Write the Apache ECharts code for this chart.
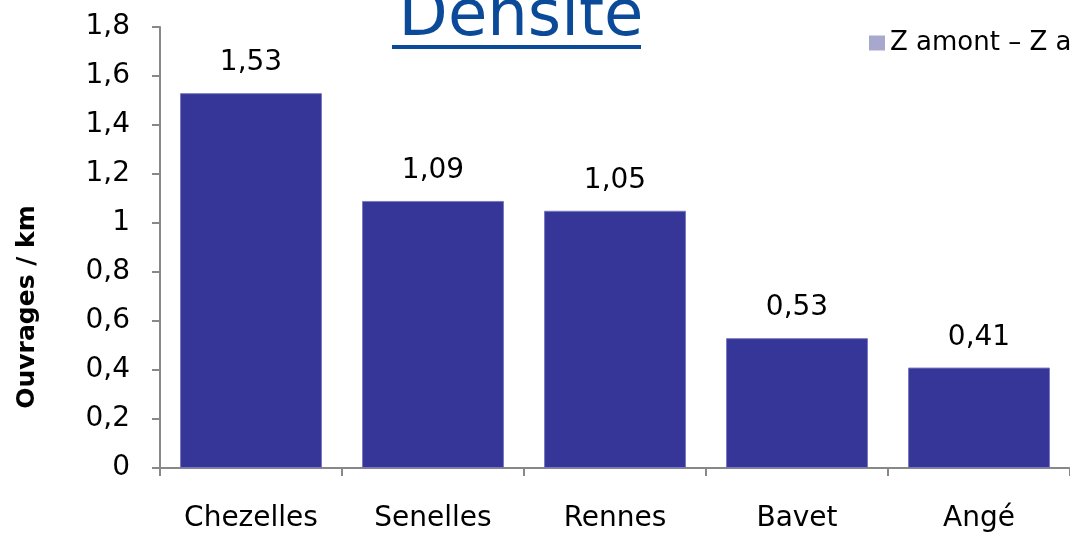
<!DOCTYPE html>
<html>
<head>
<meta charset="utf-8">
<script src="https://cdn.jsdelivr.net/npm/echarts@6/dist/echarts.min.js"></script>
<style>
html,body{margin:0;padding:0;background:#fff;}
#chart{width:1070px;height:533px;}
</style>
</head>
<body>
<div id="chart"></div>
<script>
var categories = ['Chezelles', 'Senelles', 'Rennes', 'Bavet', 'Angé'];
var densite = [1.53, 1.09, 1.05, 0.53, 0.41];
var seriesName = 'Z amont – Z aval';
var titleText = 'Densité';
var yAxisName = 'Ouvrages / km';

var FONT = 'DejaVu Sans';
function fr(v){ return String(v).replace('.', ','); }

var chart = echarts.init(document.getElementById('chart'));
chart.setOption({
  animation: false,
  backgroundColor: '#ffffff',
  grid: { left: 160, right: -3, top: 27, bottom: 64, containLabel: false },
  title: {
    text: titleText,
    left: 516, textAlign: 'center',
    top: -19,
    textStyle: { fontFamily: FONT, fontSize: 64, fontWeight: 'normal', color: '#0A4A98' }
  },
  legend: {
    left: 864, top: 25,
    icon: 'rect', itemWidth: 16, itemHeight: 15, itemGap: 4,
    textStyle: { fontFamily: FONT, fontSize: 26, color: '#000' },
    data: [{ name: seriesName, itemStyle: { color: '#A8A8CE', borderWidth: 0 } }]
  },
  graphic: [
    { type: 'rect', shape: { x: 392, y: 45, width: 249, height: 4 }, style: { fill: '#0A4A98' } },
    { type: 'text', x: 27, y: 307, rotation: Math.PI / 2,
      style: { text: yAxisName, font: 'bold 25px "' + FONT + '"', fill: '#000', textAlign: 'center', textVerticalAlign: 'middle' } }
  ],
  xAxis: {
    type: 'category',
    data: categories,
    axisLine: { lineStyle: { color: '#888', width: 2 } },
    axisTick: { show: true, length: 8, lineStyle: { color: '#888', width: 2 } },
    axisLabel: { fontFamily: FONT, fontSize: 28, color: '#000', margin: 37 }
  },
  yAxis: {
    type: 'value',
    min: 0, max: 1.8, interval: 0.2,
    axisLine: { show: true, lineStyle: { color: '#888', width: 2 } },
    axisTick: { show: true, length: 8, lineStyle: { color: '#888', width: 2 } },
    splitLine: { show: false },
    axisLabel: { fontFamily: FONT, fontSize: 28, color: '#000', margin: 30,
      formatter: function(v){ return fr(Math.round(v*10)/10); } }
  },
  series: [{
    name: seriesName,
    type: 'bar',
    data: densite,
    barCategoryGap: '22%',
    itemStyle: { color: '#363699', borderColor: '#7A7AC0', borderWidth: 1 },
    label: { show: true, position: 'top', distance: 16, fontFamily: FONT, fontSize: 28, color: '#000',
      formatter: function(p){ return fr(p.value); } }
  }]
});
</script>
</body>
</html>
